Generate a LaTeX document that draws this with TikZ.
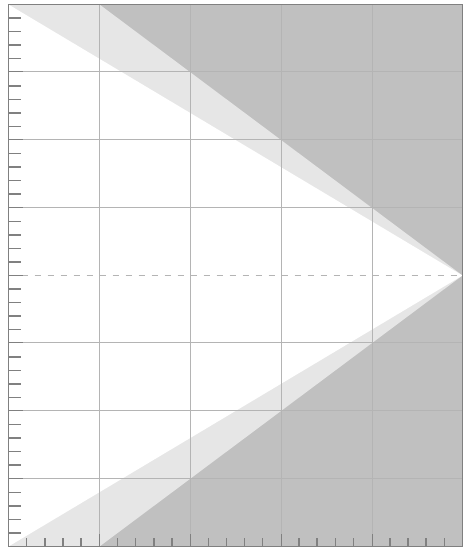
\documentclass[tikz,border=0pt]{standalone}
\begin{document}
\begin{tikzpicture}[x=1pt,y=1pt,
  gridline/.style={draw=gridgray,line width=1.2pt},
  axisline/.style={draw=axisgray,line width=1.5pt},
  tickline/.style={draw=axisgray,line width=1.5pt},
  midline/.style={draw=dashgray,line width=1.3pt,dash pattern=on 6.5pt off 6.5pt}]
\definecolor{darkfill}{HTML}{C0C0C0}
\definecolor{lightfill}{HTML}{E6E6E6}
\definecolor{gridgray}{HTML}{B4B4B4}
\definecolor{axisgray}{HTML}{808080}
\definecolor{dashgray}{HTML}{B4B4B4}
\useasboundingbox (0,0) rectangle (464,550);
\def\xl{8.5}\def\xr{462.5}\def\yb{3.5}\def\yt{545.5}
\def\cw{90.8}\def\rh{67.75}
\coordinate (TL) at (\xl,\yt);
\coordinate (BL) at (\xl,\yb);
\coordinate (TR) at (\xr,\yt);
\coordinate (BR) at (\xr,\yb);
\coordinate (AP) at (\xr,274.5);
\coordinate (T1) at (99.5,\yt);
\coordinate (B1) at (99.5,\yb);
\coordinate (ML) at (\xl,274.5);
% regions
\fill[darkfill] (BL) rectangle (TR);
\fill[lightfill] (TL) -- (T1) -- (AP) -- (B1) -- (BL) -- cycle;
\fill[white] (TL) -- (AP) -- (BL) -- cycle;
% grid
\foreach \x in {99.5,190.5,281.5,372.5} {
  \draw[gridline] (\x,\yb) -- (\x,\yt);
}
\foreach \y in {71.5,139.5,207.5,342.5,410.5,478.5} {
  \draw[gridline] (\xl,\y) -- (\xr,\y);
}
% dashed middle line
\draw[midline] (ML) -- (AP);
% left ticks
\foreach \j in {0,...,7} {
  \foreach \k in {1,...,4} {
    \draw[tickline] (\xl,{\yb+\j*\rh+\k*\rh/5}) -- ++(12,0);
  }
}
\foreach \y in {71.5,139.5,207.5,274.5,342.5,410.5,478.5} {
  \draw[tickline] (\xl,\y) -- ++(14.5,0);
}
% bottom ticks
\foreach \i in {0,...,4} {
  \foreach \k in {1,...,4} {
    \draw[tickline] ({\xl+\i*\cw+\k*\cw/5},\yb) -- ++(0,8.5);
  }
}
\foreach \x in {99.5,190.5,281.5,372.5} {
  \draw[tickline] (\x,\yb) -- ++(0,12);
}
% frame
\draw[axisline] (BL) -- (TL) -- (TR) -- (BR) -- cycle;
\end{tikzpicture}
\end{document}
